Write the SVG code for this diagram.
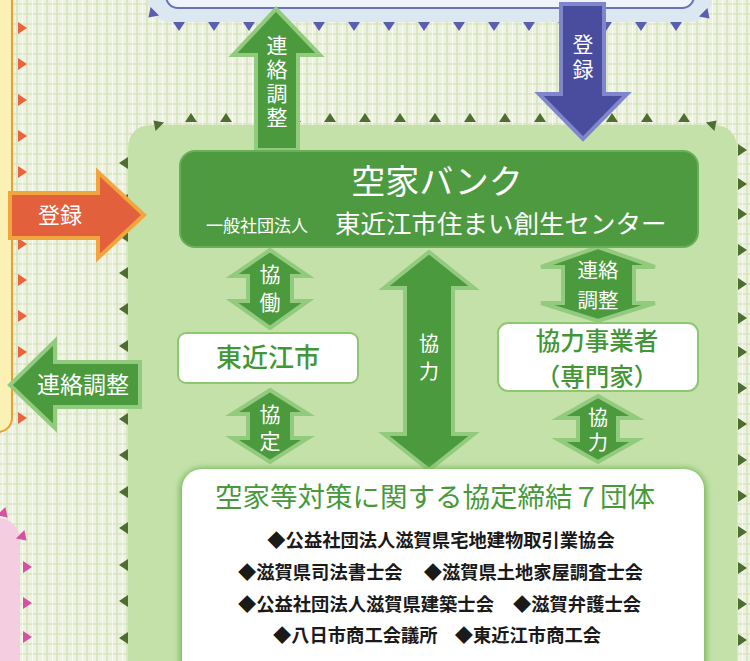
<svg xmlns="http://www.w3.org/2000/svg" xmlns:xlink="http://www.w3.org/1999/xlink" width="750" height="661" viewBox="0 0 750 661">
<defs>
<style>
text{font-family:"Noto Sans CJK JP","Noto Sans",sans-serif;}
.w{fill:#ffffff;}
.g{fill:#439636;font-weight:500;}
.arr{fill:#4b9a3e;stroke:#92cb7d;stroke-width:4;stroke-linejoin:miter;}
.box{fill:#ffffff;stroke:#8cc870;stroke-width:2;}
.lst{fill:#1a1a1a;font-size:18.3px;font-weight:bold;}
.v{font-size:22px;text-anchor:middle;fill:#ffffff;}
.vt{writing-mode:vertical-rl;text-anchor:middle;fill:#ffffff;font-size:21px;}
</style>
<pattern id="cloth" width="10" height="10" patternUnits="userSpaceOnUse">
<rect width="10" height="10" fill="#eef2e1"/>
<rect x="0" y="3" width="10" height="2" fill="#d9e6c2" opacity="0.8"/>
<rect x="6" y="0" width="2" height="10" fill="#d5e3bd" opacity="0.8"/>
<rect x="2" y="0" width="1" height="10" fill="#ffffff" opacity="0.6"/>
</pattern>
<polygon id="tri" points="-4,-6 5,0 -4,6"/>
<filter id="sh" x="-10%" y="-10%" width="120%" height="120%">
<feGaussianBlur stdDeviation="3"/>
</filter>
</defs>

<rect width="750" height="661" fill="url(#cloth)"/>

<!-- top blue box -->
<g id="top-box">
<rect x="148" y="-30" width="564" height="52" rx="22" fill="#dbe8f1"/>
<rect x="166" y="-30" width="528" height="38" rx="12" fill="#eef4fa" stroke="#6a72b8" stroke-width="2"/>
<g fill="#5a5eb0">
<use xlink:href="#tri" transform="translate(179,26) rotate(90)"/>
<use xlink:href="#tri" transform="translate(214,26) rotate(90)"/>
<use xlink:href="#tri" transform="translate(249,26) rotate(90)"/>
<use xlink:href="#tri" transform="translate(284,26) rotate(90)"/>
<use xlink:href="#tri" transform="translate(319,26) rotate(90)"/>
<use xlink:href="#tri" transform="translate(354,26) rotate(90)"/>
<use xlink:href="#tri" transform="translate(389,26) rotate(90)"/>
<use xlink:href="#tri" transform="translate(424,26) rotate(90)"/>
<use xlink:href="#tri" transform="translate(459,26) rotate(90)"/>
<use xlink:href="#tri" transform="translate(494,26) rotate(90)"/>
<use xlink:href="#tri" transform="translate(529,26) rotate(90)"/>
<use xlink:href="#tri" transform="translate(564,26) rotate(90)"/>
<use xlink:href="#tri" transform="translate(606,26) rotate(90)"/>
<use xlink:href="#tri" transform="translate(641,26) rotate(90)"/>
<use xlink:href="#tri" transform="translate(676,26) rotate(90)"/>
<use xlink:href="#tri" transform="translate(152,14) rotate(135)"/>
<use xlink:href="#tri" transform="translate(706,15) rotate(45)"/>
</g>
</g>

<!-- left yellow box -->
<g id="left-box">
<rect x="-30" y="-20" width="42" height="452" rx="14" fill="#fbf1b4" stroke="#e9a033" stroke-width="2"/>
<g fill="#e9643a">
<use xlink:href="#tri" transform="translate(22,28)"/>
<use xlink:href="#tri" transform="translate(22,64)"/>
<use xlink:href="#tri" transform="translate(22,100)"/>
<use xlink:href="#tri" transform="translate(22,136)"/>
<use xlink:href="#tri" transform="translate(22,172)"/>
<use xlink:href="#tri" transform="translate(22,244)"/>
<use xlink:href="#tri" transform="translate(22,280)"/>
<use xlink:href="#tri" transform="translate(22,316)"/>
<use xlink:href="#tri" transform="translate(22,352)"/>
<use xlink:href="#tri" transform="translate(22,418)"/>
</g>
</g>

<!-- bottom-left pink box -->
<g id="pink-box">
<rect x="-30" y="518" width="50" height="200" rx="22" fill="#f5cde0"/>
<g fill="#d551a2">
<use xlink:href="#tri" transform="translate(4,514) rotate(45)"/>
<use xlink:href="#tri" transform="translate(23,537) rotate(45)"/>
<use xlink:href="#tri" transform="translate(27,567)"/>
<use xlink:href="#tri" transform="translate(27,603)"/>
<use xlink:href="#tri" transform="translate(27,637)"/>
</g>
</g>

<!-- main green panel -->
<g id="panel">
<path d="M128,700 L128,150 Q128,125 153,125 L712,125 Q737,125 737,150 L737,700 Z" fill="#c4e1aa"/>
<g fill="#4d6e30">
<use xlink:href="#tri" transform="translate(191,118) rotate(-90)"/>
<use xlink:href="#tri" transform="translate(226,118) rotate(-90)"/>
<use xlink:href="#tri" transform="translate(261,118) rotate(-90)"/>
<use xlink:href="#tri" transform="translate(295,118) rotate(-90)"/>
<use xlink:href="#tri" transform="translate(330,118) rotate(-90)"/>
<use xlink:href="#tri" transform="translate(365,118) rotate(-90)"/>
<use xlink:href="#tri" transform="translate(400,118) rotate(-90)"/>
<use xlink:href="#tri" transform="translate(435,118) rotate(-90)"/>
<use xlink:href="#tri" transform="translate(470,118) rotate(-90)"/>
<use xlink:href="#tri" transform="translate(505,118) rotate(-90)"/>
<use xlink:href="#tri" transform="translate(540,118) rotate(-90)"/>
<use xlink:href="#tri" transform="translate(575,118) rotate(-90)"/>
<use xlink:href="#tri" transform="translate(612,118) rotate(-90)"/>
<use xlink:href="#tri" transform="translate(647,118) rotate(-90)"/>
<use xlink:href="#tri" transform="translate(684,118) rotate(-90)"/>
<use xlink:href="#tri" transform="translate(157,124) rotate(-135)"/>
<use xlink:href="#tri" transform="translate(713,124) rotate(-45)"/>
<use xlink:href="#tri" transform="translate(124,163) rotate(180)"/>
<use xlink:href="#tri" transform="translate(124,200) rotate(180)"/>
<use xlink:href="#tri" transform="translate(124,236) rotate(180)"/>
<use xlink:href="#tri" transform="translate(124,273) rotate(180)"/>
<use xlink:href="#tri" transform="translate(124,309) rotate(180)"/>
<use xlink:href="#tri" transform="translate(124,346) rotate(180)"/>
<use xlink:href="#tri" transform="translate(124,382) rotate(180)"/>
<use xlink:href="#tri" transform="translate(124,419) rotate(180)"/>
<use xlink:href="#tri" transform="translate(124,455) rotate(180)"/>
<use xlink:href="#tri" transform="translate(124,492) rotate(180)"/>
<use xlink:href="#tri" transform="translate(124,528) rotate(180)"/>
<use xlink:href="#tri" transform="translate(124,565) rotate(180)"/>
<use xlink:href="#tri" transform="translate(124,601) rotate(180)"/>
<use xlink:href="#tri" transform="translate(124,638) rotate(180)"/>
<use xlink:href="#tri" transform="translate(742,150)"/>
<use xlink:href="#tri" transform="translate(742,184)"/>
<use xlink:href="#tri" transform="translate(742,214)"/>
<use xlink:href="#tri" transform="translate(742,250)"/>
<use xlink:href="#tri" transform="translate(742,284)"/>
<use xlink:href="#tri" transform="translate(742,318)"/>
<use xlink:href="#tri" transform="translate(742,352)"/>
<use xlink:href="#tri" transform="translate(742,388)"/>
<use xlink:href="#tri" transform="translate(742,424)"/>
<use xlink:href="#tri" transform="translate(742,460)"/>
<use xlink:href="#tri" transform="translate(742,496)"/>
<use xlink:href="#tri" transform="translate(742,532)"/>
<use xlink:href="#tri" transform="translate(742,568)"/>
<use xlink:href="#tri" transform="translate(742,604)"/>
<use xlink:href="#tri" transform="translate(742,640)"/>
</g>
</g>

<!-- connectors -->
<g id="connectors">
<g id="arrow-renraku-up">
<path class="arr" d="M276,9 L320,55 L298,55 L298,150 L256,150 L256,55 L233,55 Z"/>
<text x="277" y="83" class="vt" style="letter-spacing:3px">連絡調整</text>
</g>
<g id="arrow-touroku-down">
<path d="M561,4 L604,4 L604,94 L627,94 L583,139 L539,94 L561,94 Z" fill="#4a4c9e" stroke="#7f86cc" stroke-width="4"/>
<text x="583" y="59" class="vt" style="letter-spacing:4px">登録</text>
</g>
<g id="arrow-touroku-right">
<path d="M10,193 L98,193 L98,172 L144,215 L98,258 L98,238 L10,238 Z" fill="#e2603c" stroke="#f2a53c" stroke-width="4"/>
<text x="60" y="223" class="v" style="font-size:22px">登録</text>
</g>
<g id="arrow-renraku-left">
<path class="arr" d="M10,385 L55,341 L55,362 L140,362 L140,407 L55,407 L55,428 Z"/>
<text x="83" y="393" class="v" style="font-size:23px">連絡調整</text>
</g>
<g id="arrow-kyoudou">
<path class="arr" d="M270,250 L308,276 L292,276 L292,301 L308,301 L270,328 L232,301 L248,301 L248,276 L232,276 Z"/>
<text x="270" y="292" class="vt" style="letter-spacing:7px">協働</text>
</g>
<g id="arrow-kyoutei">
<path class="arr" d="M270,390 L308,414 L292,414 L292,438 L308,438 L270,462 L232,438 L248,438 L248,414 L232,414 Z"/>
<text x="270" y="431" class="vt" style="letter-spacing:6px">協定</text>
</g>
<g id="arrow-kyouryoku-long">
<path class="arr" d="M429,252 L474,288 L453,288 L453,434 L474,434 L429,470 L384,434 L405,434 L405,288 L384,288 Z"/>
<text x="429" y="361" class="vt" style="font-size:20px;letter-spacing:8px">協力</text>
</g>
<g id="arrow-renraku-right">
<path class="arr" d="M598,247 L655,267 L634,267 L634,303 L655,303 L598,321 L541,303 L563,303 L563,267 L541,267 Z"/>
<text class="v" style="font-size:20.5px"><tspan x="598" y="278">連絡</tspan><tspan x="598" y="308">調整</tspan></text>
</g>
<g id="arrow-kyouryoku-right">
<path class="arr" d="M598,396 L637,418 L618,418 L618,440 L637,440 L598,462 L559,440 L578,440 L578,418 L559,418 Z"/>
<text x="598" y="432" class="vt" style="font-size:20px;letter-spacing:5px">協力</text>
</g>
</g>

<!-- header node -->
<g id="akiya-bank">
<rect x="180" y="151" width="518" height="96" rx="15" fill="#4e9a40" stroke="#6aae58" stroke-width="2"/>
<text x="437" y="194" class="w" text-anchor="middle" style="font-size:34px">空家バンク</text>
<text x="206" y="232" class="w" style="font-size:17px">一般社団法人</text>
<text x="335" y="233" class="w" style="font-size:25.5px">東近江市住まい創生センター</text>
</g>

<g id="higashiomi">
<rect x="178" y="333" width="180" height="50" rx="8" class="box"/>
<text x="268" y="367" class="g" text-anchor="middle" style="font-size:26px">東近江市</text>
</g>

<g id="kyouryoku-jigyousha">
<rect x="498" y="323" width="200" height="68" rx="10" class="box"/>
<text x="597" y="350" class="g" text-anchor="middle" style="font-size:24.5px">協力事業者</text>
<text x="597" y="386" class="g" text-anchor="middle" style="font-size:24.5px">（専門家）</text>
</g>

<g id="seven-groups">
<rect x="180" y="468" width="526" height="230" rx="22" fill="#6fb552" filter="url(#sh)"/>
<rect x="182" y="469" width="522" height="230" rx="20" fill="#ffffff"/>
<text x="435" y="507" text-anchor="middle" style="font-size:27.5px;fill:#47993a">空家等対策に関する協定締結７団体</text>
<text x="441" y="547" class="lst" text-anchor="middle">◆公益社団法人滋賀県宅地建物取引業協会</text>
<text x="238" y="579" class="lst">◆滋賀県司法書士会</text>
<text x="643" y="579" class="lst" text-anchor="end">◆滋賀県土地家屋調査士会</text>
<text x="238" y="611" class="lst">◆公益社団法人滋賀県建築士会</text>
<text x="641" y="611" class="lst" text-anchor="end">◆滋賀弁護士会</text>
<text x="273" y="642" class="lst">◆八日市商工会議所</text>
<text x="601" y="642" class="lst" text-anchor="end">◆東近江市商工会</text>
</g>
</svg>
